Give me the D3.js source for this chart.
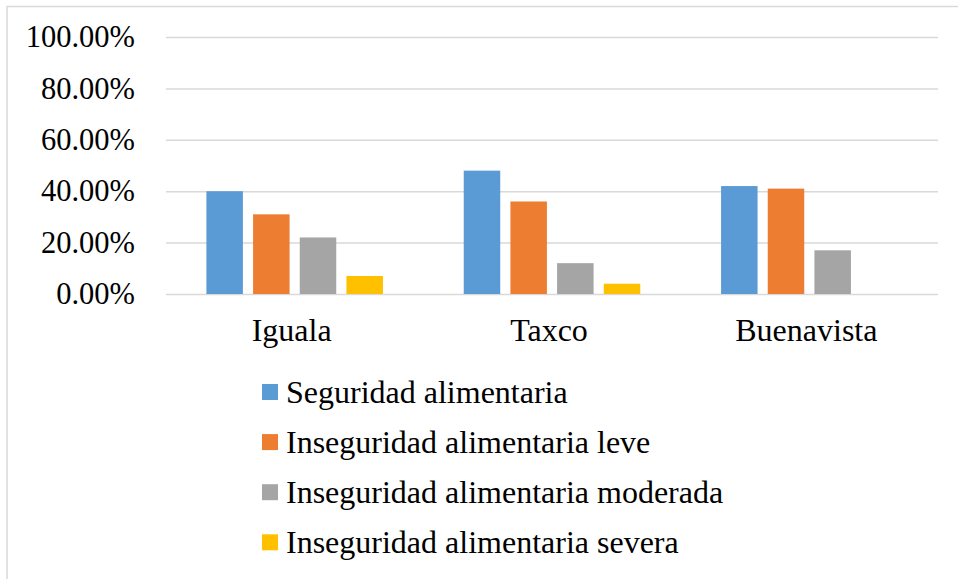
<!DOCTYPE html>
<html>
<head>
<meta charset="utf-8">
<script src="https://cdn.jsdelivr.net/npm/d3@7"></script>
<style>
  html, body { margin: 0; padding: 0; background: #fff; }
  svg { display: block; }
</style>
</head>
<body>
<svg id="chart" width="958" height="579"></svg>
<script>
// Municipalities along the x axis
const categories = ["Iguala", "Taxco", "Buenavista"];
// Food security levels (legend order)
const seriesNames = [
  "Seguridad alimentaria",
  "Inseguridad alimentaria leve",
  "Inseguridad alimentaria moderada",
  "Inseguridad alimentaria severa"
];
// Share of households per level, one array per municipality
const iguala = [0.40, 0.31, 0.22, 0.07];
const taxco = [0.48, 0.36, 0.12, 0.04];
const buenavista = [0.42, 0.41, 0.17, 0.00];
const values = [iguala, taxco, buenavista];
const colors = ["#5b9bd5", "#ed7d31", "#a5a5a5", "#ffc000"];
const yTicks = [0, 0.2, 0.4, 0.6, 0.8, 1.0];

const FONT = "'Liberation Serif', 'Times New Roman', serif";
const svg = d3.select("#chart");
const W = 958, H = 579;

// chart frame (runs past the right and bottom edges)
svg.append("rect")
  .attr("x", 7).attr("y", 6.5)
  .attr("width", W + 10).attr("height", H + 10)
  .attr("fill", "#fff")
  .attr("stroke", "#d9d9d9").attr("stroke-width", 1.5);

const plot = { left: 166, right: 938, top: 37, bottom: 294 };

const y = d3.scaleLinear().domain([0, 1]).range([plot.bottom, plot.top]);
const x0 = d3.scaleBand().domain(categories).range([plot.left, plot.right]).padding(0);
const inset = x0.bandwidth() * 0.157;
const x1 = d3.scaleBand().domain(d3.range(seriesNames.length))
  .range([inset, x0.bandwidth() - inset]).paddingInner(0.218).paddingOuter(0);

// gridlines and tick labels
const yAxis = d3.axisLeft(y).tickValues(yTicks)
  .tickSize(-(plot.right - plot.left)).tickPadding(31)
  .tickFormat(d => (d * 100).toFixed(2) + "%");
const gy = svg.append("g").attr("transform", `translate(${plot.left},0)`).call(yAxis);
gy.select(".domain").remove();
gy.selectAll(".tick line").attr("stroke", "#d9d9d9").attr("stroke-width", 1.5);
gy.selectAll(".tick text")
  .style("font-family", FONT).style("font-size", "30.5px").style("fill", "#000");

// bars
const groups = svg.append("g").selectAll("g")
  .data(categories)
  .join("g")
  .attr("transform", d => `translate(${x0(d)},0)`);

groups.selectAll("rect")
  .data((d, i) => values[i].map((v, j) => ({ v, j })))
  .join("rect")
  .attr("x", d => x1(d.j))
  .attr("width", x1.bandwidth())
  .attr("y", d => y(d.v))
  .attr("height", d => y(0) - y(d.v))
  .attr("fill", d => colors[d.j]);

// category labels
const xAxis = d3.axisBottom(x0).tickSize(0).tickPadding(24);
const gx = svg.append("g").attr("transform", `translate(-3,${plot.bottom})`).call(xAxis);
gx.select(".domain").remove();
gx.selectAll(".tick text")
  .style("font-family", FONT).style("font-size", "32px").style("fill", "#000");

// legend
const legend = svg.append("g").attr("transform", "translate(262,384)");
const rows = legend.selectAll("g").data(seriesNames).join("g")
  .attr("transform", (d, i) => `translate(0,${i * 50.1})`);
rows.append("rect").attr("width", 16).attr("height", 16).attr("fill", (d, i) => colors[i]);
rows.append("text").attr("x", 24).attr("y", 18.7)
  .style("font-family", FONT).style("font-size", "32px").style("fill", "#000")
  .text(d => d);
</script>
</body>
</html>
